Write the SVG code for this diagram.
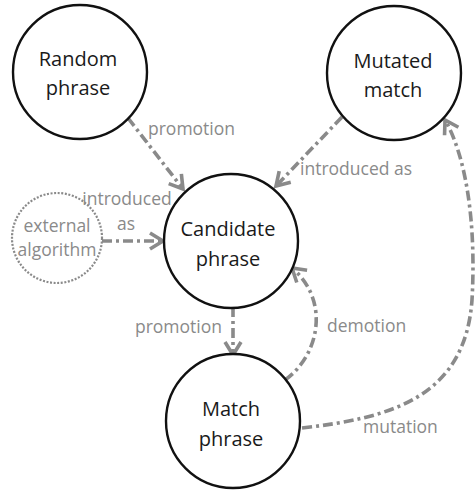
<svg xmlns="http://www.w3.org/2000/svg" width="475" height="491" viewBox="0 0 475 491">
  <style>
    .node { fill: #ffffff; stroke: #111111; stroke-width: 2.4; }
    .ext { fill: none; stroke: #8a8a8a; stroke-width: 2.2; stroke-dasharray: 2 1.6; }
    .label { font-family: "Open Sans", "DejaVu Sans", sans-serif; font-size: 20px; fill: #1a1a1a; text-anchor: middle; }
    .elabel { font-family: "Open Sans", "DejaVu Sans", sans-serif; font-size: 17.5px; fill: #8a8a8a; }
    .edge { fill: none; stroke: #8a8a8a; stroke-width: 3.6; stroke-dasharray: 10 4 3 4; }
    .head { fill: none; stroke: #8a8a8a; stroke-width: 3.6; stroke-linejoin: miter; }
  </style>
  <defs>
    <marker id="arrow" viewBox="-18 -12 22 24" markerWidth="22" markerHeight="24" refX="0" refY="0" orient="auto" markerUnits="userSpaceOnUse">
      <path class="head" d="M -13 -8 L 0 0 L -13 8"/>
    </marker>
  </defs>

  <!-- connectors -->
  <g id="edges">
    <path class="edge" d="M 128 118 L 183 189" marker-end="url(#arrow)"/>
    <path class="edge" d="M 342 117 L 276 186" marker-end="url(#arrow)"/>
    <path class="edge" d="M 102 241 L 163 241" marker-end="url(#arrow)"/>
    <path class="edge" d="M 233 307 L 233 355" marker-end="url(#arrow)"/>
    <path class="edge" d="M 285 380 C 320 355, 330 300, 292 268" marker-end="url(#arrow)"/>
    <path class="edge" d="M 302 428 C 390 418, 465 398, 472 300 C 476 230, 468 160, 445 120" marker-end="url(#arrow)"/>

    <text class="elabel" x="148" y="135">promotion</text>
    <text class="elabel" x="300" y="175">introduced as</text>
    <text class="elabel" x="127" y="205" text-anchor="middle">introduced</text>
    <text class="elabel" x="126" y="230" text-anchor="middle">as</text>
    <text class="elabel" x="222" y="333" text-anchor="end">promotion</text>
    <text class="elabel" x="327" y="332">demotion</text>
    <text class="elabel" x="363" y="433">mutation</text>
  </g>

  <g id="random-phrase">
    <circle class="node" cx="80" cy="72" r="67"/>
    <text class="label" x="78" y="66">Random</text>
    <text class="label" x="78" y="95">phrase</text>
  </g>

  <g id="mutated-match">
    <circle class="node" cx="394" cy="73" r="67"/>
    <text class="label" x="393" y="68">Mutated</text>
    <text class="label" x="393" y="97">match</text>
  </g>

  <g id="candidate-phrase">
    <circle class="node" cx="231" cy="241" r="67"/>
    <text class="label" x="228" y="236">Candidate</text>
    <text class="label" x="228" y="266">phrase</text>
  </g>

  <g id="match-phrase">
    <circle class="node" cx="233" cy="421" r="67"/>
    <text class="label" x="231" y="416">Match</text>
    <text class="label" x="231" y="446">phrase</text>
  </g>

  <g id="external-algorithm">
    <circle class="ext" cx="57" cy="238" r="45"/>
    <text class="elabel" x="57" y="232" text-anchor="middle">external</text>
    <text class="elabel" x="57" y="256" text-anchor="middle">algorithm</text>
  </g>
</svg>
